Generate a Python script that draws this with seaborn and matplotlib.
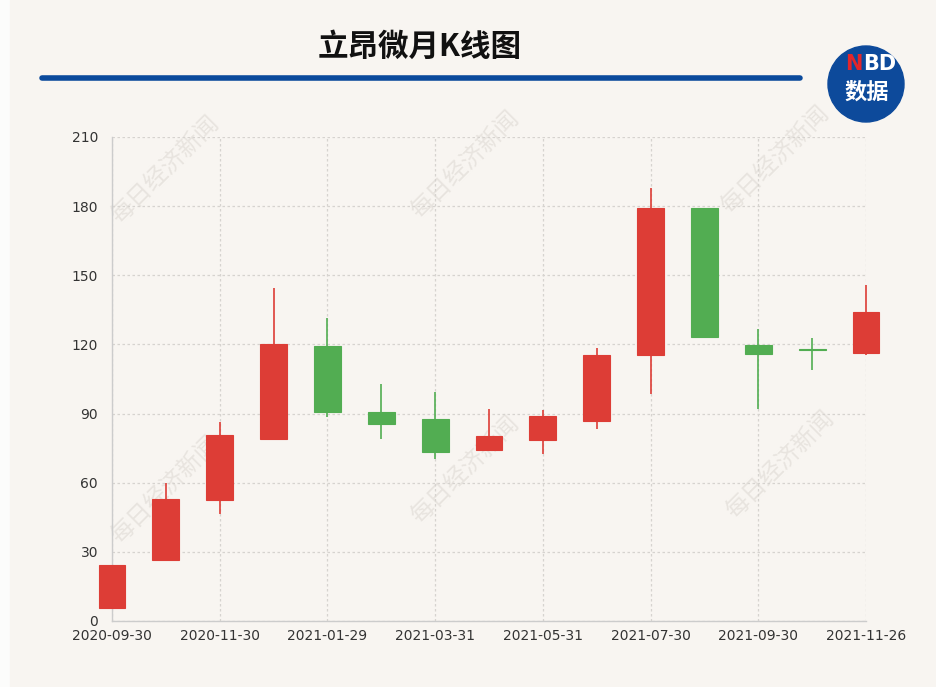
import matplotlib.pyplot as plt
import pandas as pd
import seaborn as sns
from matplotlib.lines import Line2D
from matplotlib.patches import Ellipse, Rectangle

# monthly K-line values
dates = ["2020-09-30", "2020-10-30", "2020-11-30", "2020-12-31", "2021-01-29",
         "2021-02-26", "2021-03-31", "2021-04-30", "2021-05-31", "2021-06-30",
         "2021-07-30", "2021-08-31", "2021-09-30", "2021-10-29", "2021-11-26"]
opens = [5.5, 26.5, 52.5, 79.0, 119.3, 90.8, 87.6, 74.3, 78.5, 86.8,
         115.4, 179.0, 119.9, 117.8, 116.4]
closes = [24.3, 52.8, 80.8, 120.2, 90.7, 85.6, 73.5, 80.1, 88.9, 115.4,
          179.0, 123.2, 115.8, 117.5, 133.9]
highs = [24.3, 60.0, 86.5, 144.6, 131.3, 102.7, 99.5, 91.8, 91.5, 118.6,
         187.7, 179.4, 126.7, 122.8, 145.8]
lows = [5.5, 26.5, 46.3, 79.0, 88.6, 78.8, 70.2, 74.3, 72.3, 83.2,
        98.3, 123.2, 92.1, 108.9, 115.4]
y_ticks = [0, 30, 60, 90, 120, 150, 180, 210]

df = pd.DataFrame({"date": dates, "open": opens, "close": closes,
                   "high": highs, "low": lows})
df["pos"] = range(len(df))
df["bottom"] = df[["open", "close"]].min(axis=1)
df["body"] = (df["close"] - df["open"]).abs()

RED = "#dd3d36"
GREEN = "#52ad52"
df["color"] = [RED if c >= o else GREEN for o, c in zip(df["open"], df["close"])]

sns.set_style("white")
plt.rcParams["font.family"] = ["Noto Sans CJK SC", "DejaVu Sans"]

fig = plt.figure(figsize=(9.37, 6.87), dpi=100, facecolor="#fcfcfb")
fig.add_artist(Rectangle((10 / 937, 0), 1, 1, transform=fig.transFigure,
                         color="#f8f5f1", zorder=-10))

# title, rule and logo
fig.text(420 / 937, 1 - 47 / 687, "立昂微月K线图", ha="center", va="center",
         fontsize=22, fontweight="bold", color="#111111")
fig.add_artist(Line2D([42 / 937, 800 / 937], [1 - 78 / 687] * 2,
                      transform=fig.transFigure, lw=4, color="#0b4a9c"))
fig.add_artist(Ellipse((866 / 937, 1 - 84 / 687), 76 / 937, 76 / 687,
                       transform=fig.transFigure, color="#0d4a9b", zorder=5))
n_txt = fig.text(845 / 937, 1 - 64 / 687, "N", ha="left", va="center", fontsize=15,
                 fontweight="bold", color="#e3262b", zorder=6, family="DejaVu Sans")
renderer = fig.canvas.get_renderer()
n_right = n_txt.get_window_extent(renderer).x1 + 1
fig.text(n_right / fig.bbox.width, 1 - 64 / 687, "BD", ha="left", va="center",
         fontsize=15, fontweight="bold", color="white", zorder=6, family="DejaVu Sans")
fig.text(867 / 937, 1 - 92 / 687, "数据", ha="center", va="center", fontsize=16,
         fontweight="bold", color="white", zorder=6)

# watermarks
for wx, wy in [(165, 170), (465, 165), (775, 160), (165, 490), (465, 470), (780, 465)]:
    fig.text(wx / 937, 1 - wy / 687, "每日经济新闻", rotation=45, ha="center",
             va="center", fontsize=17, color="#e8e4df", zorder=-5)

ax = fig.add_axes([112 / 937, 66 / 687, 754 / 937, 484 / 687])
ax.set_facecolor("none")

ax.vlines(df["pos"], df["low"], df["high"], colors=df["color"], lw=1.2,
          zorder=3, clip_on=False)
ax.bar(df["pos"], df["body"], bottom=df["bottom"], width=0.5, color=df["color"],
       edgecolor=df["color"], lw=0.8, zorder=4, clip_on=False)

ax.set_xlim(0, len(df) - 1)
ax.set_ylim(0, 210)
ax.set_yticks(y_ticks)
ax.set_xticks(df["pos"][::2])
ax.set_xticklabels(df["date"][::2])
ax.tick_params(axis="both", length=0, labelsize=10, labelcolor="#333333")
ax.tick_params(axis="x", pad=6)
ax.tick_params(axis="y", pad=10)
for lab in ax.get_xticklabels() + ax.get_yticklabels():
    lab.set_family("DejaVu Sans")

ax.grid(True, linestyle=(0, (2, 2)), color="#d6d3cf", lw=0.9)
for side in ["top", "right"]:
    ax.spines[side].set_visible(False)
for side in ["left", "bottom"]:
    ax.spines[side].set_color("#cccccc")
    ax.spines[side].set_linewidth(1.0)
ax.set_xlabel("")
ax.set_ylabel("")

fig.savefig("out.png", dpi=100)
